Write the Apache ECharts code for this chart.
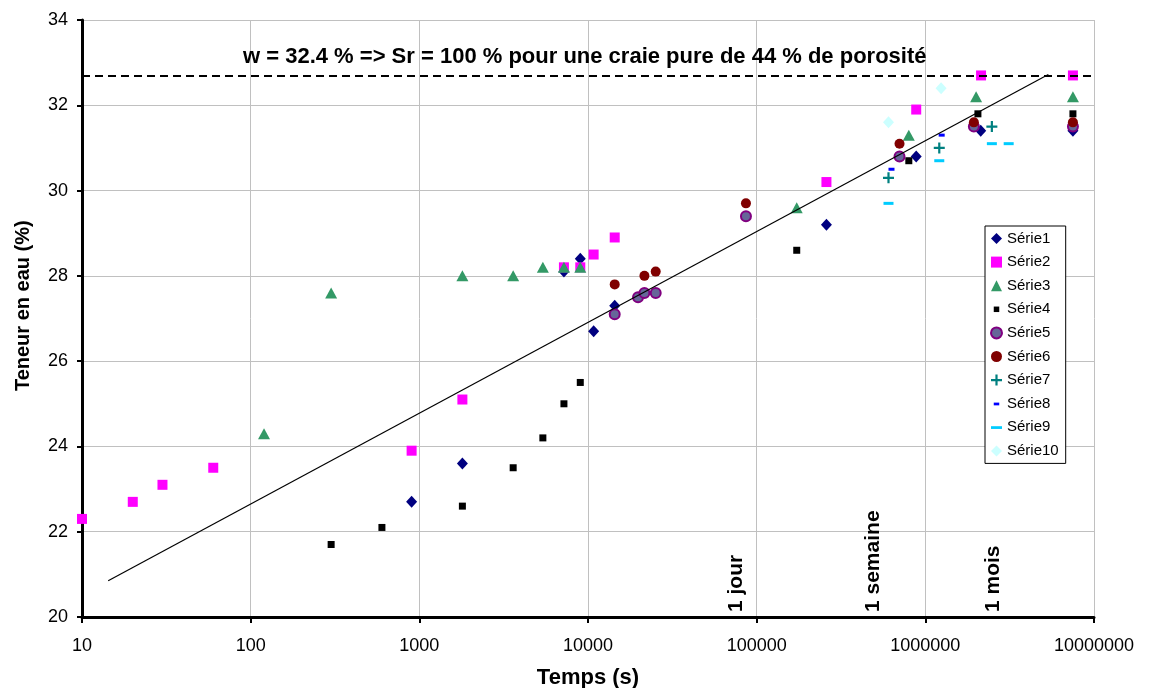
<!DOCTYPE html>
<html>
<head>
<meta charset="utf-8">
<title>Teneur en eau</title>
<script src="https://cdn.jsdelivr.net/npm/echarts@6/dist/echarts.min.js"></script>
<style>
  html, body { margin: 0; padding: 0; background: #fff; }
  #chart { width: 1149px; height: 688px; }
</style>
</head>
<body>
<div id="chart"></div>
<script>
// données : [temps (s), teneur en eau (%)]
const serie1 = [[900, 22.7], [1800, 23.6], [7200, 28.1], [9000, 28.4], [10800, 26.7], [14400, 27.3], [259200, 29.2], [883000, 30.8], [2130000, 31.4], [7500000, 31.4]]
const serie2 = [[10, 22.3], [20, 22.7], [30, 23.1], [60, 23.5], [900, 23.9], [1800, 25.1], [7200, 28.2], [9000, 28.2], [10800, 28.5], [14400, 28.9], [259200, 30.2], [883000, 31.9], [2140000, 32.7], [7500000, 32.7]]
const serie3 = [[120, 24.3], [300, 27.6], [1800, 28.0], [3600, 28.0], [5400, 28.2], [7200, 28.2], [9000, 28.2], [172800, 29.6], [798000, 31.3], [2000000, 32.2], [7500000, 32.2]]
const serie4 = [[300, 21.7], [600, 22.1], [1800, 22.6], [3600, 23.5], [5400, 24.2], [7200, 25.0], [9000, 25.5], [172800, 28.6], [798000, 30.7], [2050000, 31.8], [7500000, 31.8]]
const serie5 = [[14400, 27.1], [19800, 27.5], [21600, 27.6], [25200, 27.6], [86400, 29.4], [703000, 30.8], [1940000, 31.5], [7500000, 31.5]]
const serie6 = [[14400, 27.8], [21600, 28.0], [25200, 28.1], [86400, 29.7], [703000, 31.1], [1940000, 31.6], [7500000, 31.6]]
const serie7 = [[604800, 30.3], [1209600, 31.0], [2480000, 31.5]]
const serie8 = [[630000, 30.5], [1250000, 31.3]]
const serie9 = [[604800, 29.7], [1209600, 30.7], [2480000, 31.1], [3120000, 31.1]]
const serie10 = [[604800, 31.6], [1240000, 32.4]]

// courbe de tendance (logarithmique), extrémités lues
const trendX = [14.3, 5360000]
const trendY = [20.85, 32.72]

// saturation Sr = 100 %
const satLevel = 32.7
const satText = 'w = 32.4 % => Sr = 100 % pour une craie pure de 44 % de porosité'

// repères de durée (position du texte en temps)
const durLabels = ['1 jour', '1 semaine', '1 mois']
const durTimes = [75500, 491000, 2540000]

const yMin = 20, yMax = 34, yStep = 2
const xMin = 10, xMax = 10000000

const FONT = 'Arial, "Liberation Sans", sans-serif'
const plusPath = 'path://M4,0h2v4h4v2h-4v4h-2v-4h-4v-2h4z'

const chart = echarts.init(document.getElementById('chart'))

const scatter = (name, data, symbol, size, style) => ({
  name,
  type: 'scatter',
  data,
  symbol,
  symbolSize: size,
  itemStyle: Object.assign({ opacity: 1 }, style),
  emphasis: { disabled: true }
})

const series = [
  scatter('Série1', serie1, 'diamond', [11, 12], { color: '#000080' }),
  scatter('Série2', serie2, 'rect', 10, { color: '#FF00FF' }),
  scatter('Série3', serie3, 'triangle', [12, 11], { color: '#339966' }),
  scatter('Série4', serie4, 'rect', 7, { color: '#000000' }),
  scatter('Série5', serie5, 'circle', 10, { color: '#666699', borderColor: '#800080', borderWidth: 2 }),
  scatter('Série6', serie6, 'circle', 10, { color: '#800000' }),
  scatter('Série7', serie7, plusPath, 11, { color: '#008080' }),
  scatter('Série8', serie8, 'rect', [6, 3], { color: '#0000FF' }),
  scatter('Série9', serie9, 'rect', [10, 3], { color: '#00CCFF' }),
  scatter('Série10', serie10, 'diamond', [11, 12], { color: '#CCFFFF' }),
  {
    name: 'tendance',
    type: 'line',
    data: trendX.map((t, i) => [t, trendY[i]]),
    showSymbol: false,
    silent: true,
    lineStyle: { color: '#000', width: 1.2 },
    markLine: {
      silent: true,
      symbol: 'none',
      label: { show: false },
      lineStyle: { color: '#000', type: [8, 5], width: 2 },
      data: [{ yAxis: satLevel }]
    }
  }
]

chart.setOption({
  animation: false,
  backgroundColor: '#fff',
  title: {
    text: satText,
    left: 243,
    top: 46,
    padding: 0,
    textStyle: { fontFamily: FONT, fontSize: 22, fontWeight: 'bold', color: '#000' }
  },
  grid: { left: 82, right: 55, top: 20, bottom: 71, containLabel: false, outerBoundsMode: 'none' },
  legend: {
    orient: 'vertical',
    left: 985,
    top: 226,
    padding: [5, 7, 5, 5],
    backgroundColor: '#fff',
    borderColor: '#000',
    borderWidth: 1,
    borderRadius: 0,
    itemWidth: 11,
    itemHeight: 11,
    itemGap: 8.6,
    itemTextGap: 3,
    textStyle: { fontFamily: FONT, fontSize: 15, color: '#000' },
    data: [
      'Série1', 'Série2', 'Série3',
      { name: 'Série4', icon: 'path://M0,0M10,10M2.5,2.5h5v5h-5z' },
      'Série5', 'Série6', 'Série7',
      { name: 'Série8', icon: 'path://M0,0M10,10M2.5,4h5v2.5h-5z' },
      { name: 'Série9', icon: 'path://M0,0M10,10M0,4h10v2.5h-10z' },
      'Série10'
    ]
  },
  xAxis: {
    type: 'log',
    logBase: 10,
    min: xMin,
    max: xMax,
    name: 'Temps (s)',
    nameLocation: 'middle',
    nameGap: 50,
    nameTextStyle: { fontFamily: FONT, fontSize: 22, fontWeight: 'bold', color: '#000' },
    axisLine: { onZero: false, lineStyle: { color: '#000', width: 3 } },
    axisTick: { show: true, length: 6, lineStyle: { color: '#000', width: 2 } },
    minorTick: { show: false },
    axisLabel: {
      fontFamily: FONT, fontSize: 18, color: '#000', margin: 20,
      formatter: v => String(Math.round(v))
    },
    splitLine: { show: true, lineStyle: { color: '#C0C0C0', width: 1 } }
  },
  yAxis: {
    type: 'value',
    min: yMin,
    max: yMax,
    interval: yStep,
    axisLine: { show: true, onZero: false, lineStyle: { color: '#000', width: 3 } },
    axisTick: { show: true, length: 5, lineStyle: { color: '#000', width: 2 } },
    axisLabel: { fontFamily: FONT, fontSize: 18, color: '#000', margin: 14 },
    splitLine: { show: true, lineStyle: { color: '#C0C0C0', width: 1 } }
  },
  series
})

// textes : nom de l'axe Y et repères de durée
const yName = chart.convertToPixel({ yAxisIndex: 0 }, 27.3)
const baseY = chart.convertToPixel({ yAxisIndex: 0 }, yMin)
const graphics = [{
  type: 'text',
  x: 23,
  y: yName,
  rotation: Math.PI / 2,
  style: {
    text: 'Teneur en eau (%)',
    font: 'bold 20px ' + FONT,
    fill: '#000',
    align: 'center',
    verticalAlign: 'middle'
  }
}]
durLabels.forEach((txt, i) => {
  graphics.push({
    type: 'text',
    x: chart.convertToPixel({ xAxisIndex: 0 }, durTimes[i]),
    y: baseY - 5,
    rotation: Math.PI / 2,
    style: {
      text: txt,
      font: 'bold 21px ' + FONT,
      fill: '#000',
      align: 'left',
      verticalAlign: 'middle'
    }
  })
})
chart.setOption({ graphic: graphics })
</script>
</body>
</html>
